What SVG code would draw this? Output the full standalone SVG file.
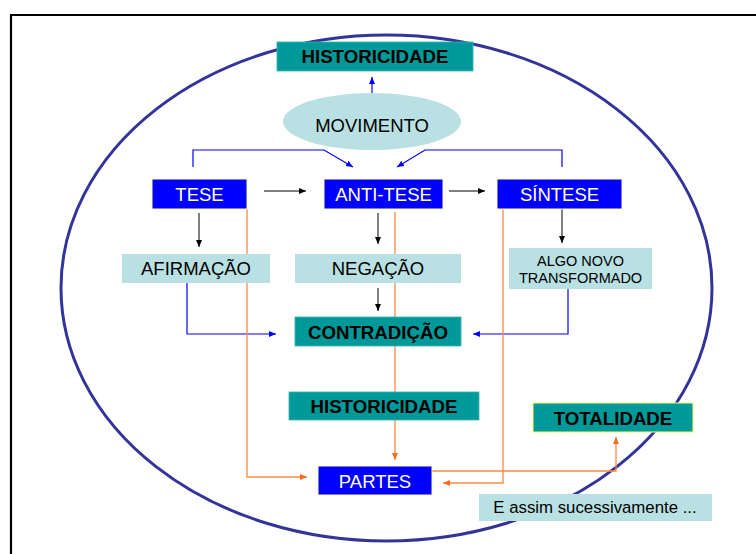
<svg xmlns="http://www.w3.org/2000/svg" width="756" height="554" viewBox="0 0 756 554">
<style>
  text { font-family: "Liberation Sans", Arial, sans-serif; text-anchor: middle; }
  .teal { fill: #009999; stroke: #33b3b3; stroke-width: 0.8; }
  .tealy { fill: #009999; stroke: #ffff66; stroke-width: 1; }
  .blue { fill: #0000ff; stroke: #ffff99; stroke-width: 1; }
  .light { fill: #b9e0e3; stroke: none; }
  .tb { font-size: 18.7px; font-weight: bold; fill: #000; }
  .tw { font-size: 18.5px; fill: #fff; }
  .tk { font-size: 18.5px; fill: #000; }
  .ts { font-size: 14.5px; fill: #000; }
  .cb { stroke: #0000ff; stroke-width: 1.2; fill: none; }
  .ck { stroke: #000; stroke-width: 1; fill: none; }
  .co { stroke: #fa8a46; stroke-width: 1.3; fill: none; }
</style>
<defs>
  <marker id="ab" markerUnits="userSpaceOnUse" markerWidth="8" markerHeight="8" viewBox="0 0 8 8" refX="7" refY="4" orient="auto">
    <path d="M0,1 L7,4 L0,7 Z" fill="#0000ff"/>
  </marker>
  <marker id="ak" markerUnits="userSpaceOnUse" markerWidth="8" markerHeight="8" viewBox="0 0 8 8" refX="7" refY="4" orient="auto">
    <path d="M0,1 L7,4 L0,7 Z" fill="#000"/>
  </marker>
  <marker id="ao" markerUnits="userSpaceOnUse" markerWidth="8" markerHeight="8" viewBox="0 0 8 8" refX="7" refY="4" orient="auto">
    <path d="M0,1 L7,4 L0,7 Z" fill="#ff6a1a"/>
  </marker>
</defs>
<rect width="756" height="554" fill="#fff"/>
<path d="M11,554 L11,15 L756,15" fill="none" stroke="#000" stroke-width="2.2"/>
<ellipse id="circle" cx="386.5" cy="288" rx="325.5" ry="253" fill="none" stroke="#333399" stroke-width="3"/>
<g id="connectors">
  <line class="cb" x1="372" y1="99" x2="372" y2="77" marker-end="url(#ab)"/>
  <polyline class="cb" points="193,167 193,150 324,150 353,167" marker-end="url(#ab)"/>
  <polyline class="cb" points="562,167 562,150 425,150 397,167" marker-end="url(#ab)"/>
  <line class="ck" x1="264" y1="191" x2="306" y2="191" marker-end="url(#ak)"/>
  <line class="ck" x1="449" y1="191" x2="485" y2="191" marker-end="url(#ak)"/>
  <line class="ck" x1="199" y1="213" x2="199" y2="247" marker-end="url(#ak)"/>
  <line class="ck" x1="378" y1="213" x2="378" y2="244" marker-end="url(#ak)"/>
  <line class="ck" x1="562" y1="209" x2="562" y2="243" marker-end="url(#ak)"/>
  <line class="ck" x1="378" y1="288" x2="378" y2="311" marker-end="url(#ak)"/>
  <polyline class="cb" points="187,283 187,334 276,334" marker-end="url(#ab)"/>
  <polyline class="cb" points="568,289 568,334 473,334" marker-end="url(#ab)"/>
  <polyline class="co" points="247,209 247,477 307,477" marker-end="url(#ao)"/>
  <line class="co" x1="395" y1="212" x2="395" y2="317"/>
  <line class="co" x1="395" y1="346" x2="395" y2="392"/>
  <line class="co" x1="395" y1="420" x2="395" y2="460" marker-end="url(#ao)"/>
  <polyline class="co" points="503,209 503,483 443,483" marker-end="url(#ao)"/>
  <polyline class="co" points="432,471 616,471 616,437" marker-end="url(#ao)"/>
</g>
<g id="historicidade-top">
  <rect class="teal" x="277" y="42" width="196" height="29"/>
  <text class="tb" x="375" y="63">HISTORICIDADE</text>
</g>
<g id="movimento">
  <ellipse cx="372" cy="121.5" rx="89" ry="28.5" fill="#b9e0e3"/>
  <text class="tk" x="372" y="132">MOVIMENTO</text>
</g>
<g id="tese">
  <rect class="blue" x="152" y="179" width="95" height="30"/>
  <text class="tw" x="199.5" y="201">TESE</text>
</g>
<g id="anti-tese">
  <rect class="blue" x="324" y="179" width="119" height="30"/>
  <text class="tw" x="383.5" y="201">ANTI-TESE</text>
</g>
<g id="sintese">
  <rect class="blue" x="497" y="179" width="125" height="30"/>
  <text class="tw" x="559.5" y="201">SÍNTESE</text>
</g>
<g id="afirmacao">
  <rect class="light" x="122" y="254" width="148" height="29"/>
  <text class="tk" x="196" y="275">AFIRMAÇÃO</text>
</g>
<g id="negacao">
  <rect class="light" x="295" y="254" width="166" height="29"/>
  <text class="tk" x="378" y="275">NEGAÇÃO</text>
</g>
<g id="algo-novo">
  <rect class="light" x="509" y="248" width="143" height="41"/>
  <text class="ts" x="580.5" y="266">ALGO NOVO</text>
  <text class="ts" x="580.5" y="283">TRANSFORMADO</text>
</g>
<g id="contradicao">
  <rect class="teal" x="295" y="317" width="166" height="29"/>
  <text class="tb" x="378" y="338.5">CONTRADIÇÃO</text>
</g>
<g id="historicidade">
  <rect class="teal" x="289" y="392" width="190" height="28"/>
  <text class="tb" x="384" y="413">HISTORICIDADE</text>
</g>
<g id="totalidade">
  <rect class="tealy" x="533" y="403" width="160" height="29"/>
  <text class="tb" x="613" y="424.5">TOTALIDADE</text>
</g>
<g id="partes">
  <rect class="blue" x="318" y="466" width="114" height="29"/>
  <text class="tw" x="375" y="487.5">PARTES</text>
</g>
<g id="e-assim">
  <rect class="light" x="479" y="494" width="233" height="27"/>
  <text class="tk" x="595" y="513" style="font-size:16.8px">E assim sucessivamente ...</text>
</g>
</svg>
